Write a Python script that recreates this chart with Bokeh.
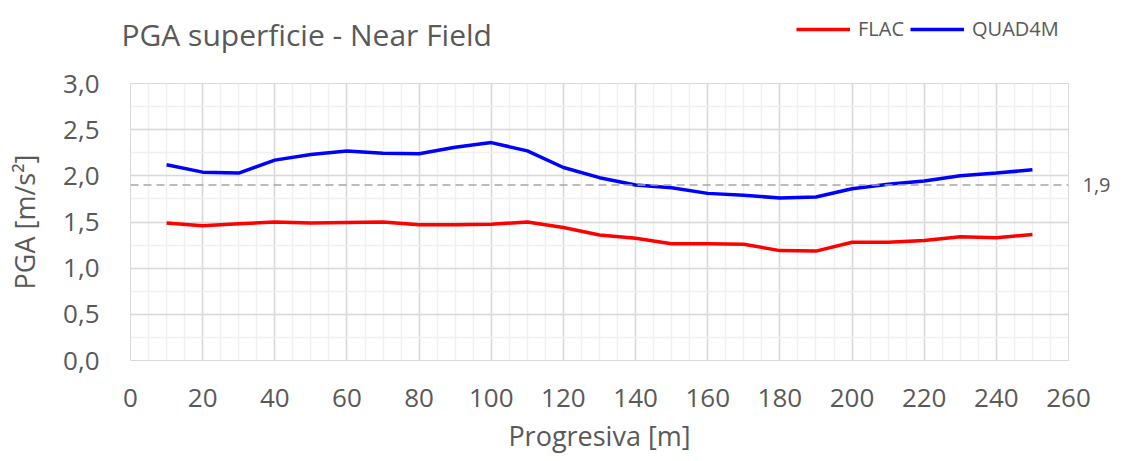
import math
from bokeh.plotting import figure
from bokeh.layouts import column, row
from bokeh.models import (FixedTicker, CustomJSTickFormatter, Span, Label, Legend,
                          LegendItem, Range1d, LinearAxis)
from bokeh.embed import file_html
from bokeh.resources import INLINE

# ---------------- data ----------------
progresiva = [10, 20, 30, 40, 50, 60, 70, 80, 90, 100, 110, 120, 130, 140, 150,
              160, 170, 180, 190, 200, 210, 220, 230, 240, 250]
flac = [1.49, 1.46, 1.48, 1.50, 1.49, 1.495, 1.50, 1.47, 1.47, 1.475, 1.50, 1.44,
        1.36, 1.325, 1.265, 1.265, 1.26, 1.19, 1.185, 1.28, 1.28, 1.30, 1.34, 1.33, 1.365]
quad4m = [2.12, 2.04, 2.03, 2.17, 2.23, 2.27, 2.245, 2.24, 2.31, 2.36, 2.27, 2.09,
          1.98, 1.90, 1.87, 1.81, 1.79, 1.76, 1.77, 1.86, 1.91, 1.945, 2.00, 2.03, 2.065]
threshold = [1.9]
threshold_label = ["1,9"]

x_ticks = [0, 20, 40, 60, 80, 100, 120, 140, 160, 180, 200, 220, 240, 260]
x_labels = [str(t) for t in x_ticks]
x_minor = [v for v in range(0, 261, 5)]
y_ticks = [0.0, 0.5, 1.0, 1.5, 2.0, 2.5, 3.0]
y_labels = ["0,0", "0,5", "1,0", "1,5", "2,0", "2,5", "3,0"]
y_minor = [i * 0.25 for i in range(13)]

series_names = ["FLAC", "QUAD4M"]
series_colors = ["#ff0000", "#0000ff"]

title_text = "PGA superficie - Near Field"
x_title = "Progresiva [m]"
y_title = "PGA [m/s\u00b2]"

FONT = "Open Sans"
TXT = "#595959"
W = 1123
HEAD_H = 55

# ---------------- main chart ----------------
p = figure(frame_width=938, frame_height=277, output_backend="svg", toolbar_location=None,
           x_range=Range1d(0, 260), y_range=Range1d(0, 3.0),
           min_border_left=130, min_border_right=55, min_border_top=28,
           min_border_bottom=101)
p.outline_line_color = "#d9d9d9"

fmt_code = """
const i = tvals.findIndex(t => Math.abs(t - tick) < 1e-9);
return i >= 0 ? tlabels[i] : '';
"""
p.xaxis.ticker = FixedTicker(ticks=x_ticks)
p.xaxis.formatter = CustomJSTickFormatter(args=dict(tvals=x_ticks, tlabels=x_labels), code=fmt_code)
p.yaxis.ticker = FixedTicker(ticks=y_ticks)
p.yaxis.formatter = CustomJSTickFormatter(args=dict(tvals=y_ticks, tlabels=y_labels), code=fmt_code)

right_axis = LinearAxis(ticker=FixedTicker(ticks=threshold),
                        formatter=CustomJSTickFormatter(args=dict(tvals=threshold, tlabels=threshold_label),
                                                        code=fmt_code))
p.add_layout(right_axis, "right")

for ax in (p.xaxis[0], p.yaxis[0], right_axis):
    ax.axis_line_color = None
    ax.major_tick_line_color = None
    ax.minor_tick_line_color = None
    ax.major_label_text_font = FONT
    ax.major_label_text_font_size = "26px"
    ax.major_label_text_color = TXT
    ax.axis_label_text_font = FONT
    ax.axis_label_text_font_size = "27px"
    ax.axis_label_text_font_style = "normal"
    ax.axis_label_text_color = TXT

right_axis.major_label_text_font_size = "20px"
right_axis.major_label_standoff = 8

p.xaxis[0].axis_label = x_title
p.yaxis[0].axis_label = y_title
p.xaxis[0].major_label_standoff = 22
p.yaxis[0].major_label_standoff = 25
p.xaxis[0].axis_label_standoff = 7
p.yaxis[0].axis_label_standoff = 17

p.xgrid.ticker = FixedTicker(ticks=x_ticks, minor_ticks=x_minor)
p.ygrid.ticker = FixedTicker(ticks=y_ticks, minor_ticks=y_minor)
for g in (p.xgrid, p.ygrid):
    g.grid_line_color = "#d9d9d9"
    g.grid_line_width = 1.5
    g.minor_grid_line_color = "#f0f0f0"
    g.minor_grid_line_width = 1.5

p.add_layout(Span(location=threshold[0], dimension="width", line_color="#a6a6a6",
                  line_width=1.5, line_dash="8 5"))

p.line(progresiva, flac, line_color=series_colors[0], line_width=3.5)
p.line(progresiva, quad4m, line_color=series_colors[1], line_width=3.5)

# ---------------- header: title + legend ----------------
h = figure(frame_width=W, frame_height=HEAD_H, output_backend="svg", toolbar_location=None,
           x_range=Range1d(0, W), y_range=Range1d(0, HEAD_H),
           min_border=0, min_border_left=0, min_border_right=0,
           min_border_top=0, min_border_bottom=0)
h.axis.visible = False
h.grid.visible = False
h.outline_line_color = None

h.add_layout(Label(x=121, y=HEAD_H - 34, text=title_text, text_baseline="alphabetic",
                   text_font=FONT, text_font_size="30px", text_color=TXT))

items = []
for name, col in zip(series_names, series_colors):
    r = h.line(x=[math.nan], y=[math.nan], line_color=col, line_width=3.5)
    items.append(LegendItem(label=name, renderers=[r]))

legend = Legend(items=items, orientation="horizontal", location=(796, HEAD_H - 42),
                label_text_font=FONT, label_text_font_size="20px",
                label_text_color=TXT, glyph_width=54, label_standoff=8,
                spacing=6, padding=0, margin=0, background_fill_alpha=0,
                border_line_color=None)
h.add_layout(legend)

layout = column(row(h), row(p), spacing=0)
open("out.html", "w").write(file_html(layout, INLINE))
